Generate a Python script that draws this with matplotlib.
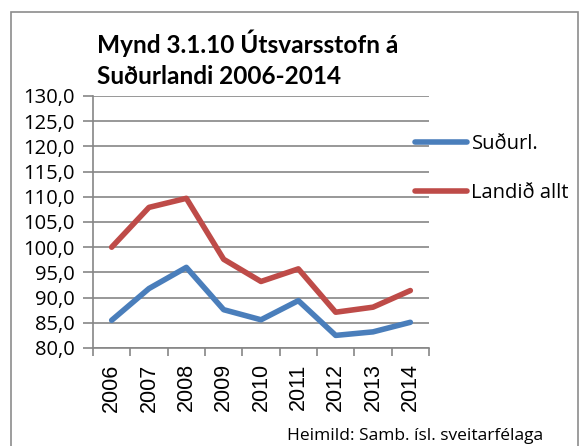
import matplotlib.pyplot as plt
from matplotlib.patches import Rectangle

years = ["2006", "2007", "2008", "2009", "2010", "2011", "2012", "2013", "2014"]
sudurl = [85.5, 91.8, 96.0, 87.6, 85.6, 89.4, 82.5, 83.2, 85.1]
landid = [100.0, 107.9, 109.7, 97.6, 93.2, 95.7, 87.1, 88.1, 91.4]
yticks = [80, 85, 90, 95, 100, 105, 110, 115, 120, 125, 130]

plt.rcParams['font.family'] = ['Open Sans', 'DejaVu Sans']

fig = plt.figure(figsize=(5.84, 4.46), dpi=100)
ax = fig.add_axes([93/584, 1-348/446, (429-93)/584, (348-96)/446])

x = list(range(len(years)))
l1, = ax.plot(x, sudurl, color='#4a7ebb', lw=4, solid_capstyle='round', solid_joinstyle='round')
l2, = ax.plot(x, landid, color='#be4b48', lw=4, solid_capstyle='round', solid_joinstyle='round')

ax.set_xlim(-0.5, len(years) - 0.5)
ax.set_ylim(80, 130)
ax.set_yticks(yticks)
ax.set_yticklabels([f"{v:.1f}".replace('.', ',') for v in yticks], fontsize=14.5)
ax.set_xticks(x)
ax.set_xticklabels(years, rotation=90, fontsize=15.5, family=['Liberation Sans', 'DejaVu Sans'])
ax.set_xticks([i - 0.5 for i in range(len(years) + 1)], minor=True)
ax.tick_params(axis='x', which='major', length=0, pad=11)
ax.tick_params(axis='x', which='minor', length=6, color='#868686', width=1.2)
ax.tick_params(axis='y', length=7, color='#868686', width=1.2, pad=6)
ax.grid(axis='y', color='#868686', lw=1.2)
ax.set_axisbelow(True)
for s in ['top', 'right']:
    ax.spines[s].set_visible(False)
for s in ['left', 'bottom']:
    ax.spines[s].set_color('#868686')
    ax.spines[s].set_linewidth(1.2)

fig.legend([l1, l2], ["Suðurl.", "Landið allt"], loc='upper left',
           bbox_to_anchor=(405/584, 1-124/446), frameon=False, fontsize=14.5,
           handlelength=2.6, handletextpad=0.2, labelspacing=1.45, borderpad=0)

fig.text(97/584, 1-43/446, "Mynd 3.1.10 Útsvarsstofn á", fontsize=17.6, fontweight='bold',
         va='center', ha='left', family=['Lato', 'DejaVu Sans'])
fig.text(97/584, 1-76/446, "Suðurlandi 2006-2014", fontsize=17.6, fontweight='bold',
         va='center', ha='left', family=['Lato', 'DejaVu Sans'])
fig.text(287/584, 1-436/446, "Heimild: Samb. ísl. sveitarfélaga", fontsize=12.5, va='center', ha='left')

fig.patches.append(Rectangle((11/584, -0.1), (578-11)/584, 1.1-12/446, transform=fig.transFigure,
                             fill=False, edgecolor='#8c8c8c', lw=1.2))

fig.savefig("out.png", dpi=100)
